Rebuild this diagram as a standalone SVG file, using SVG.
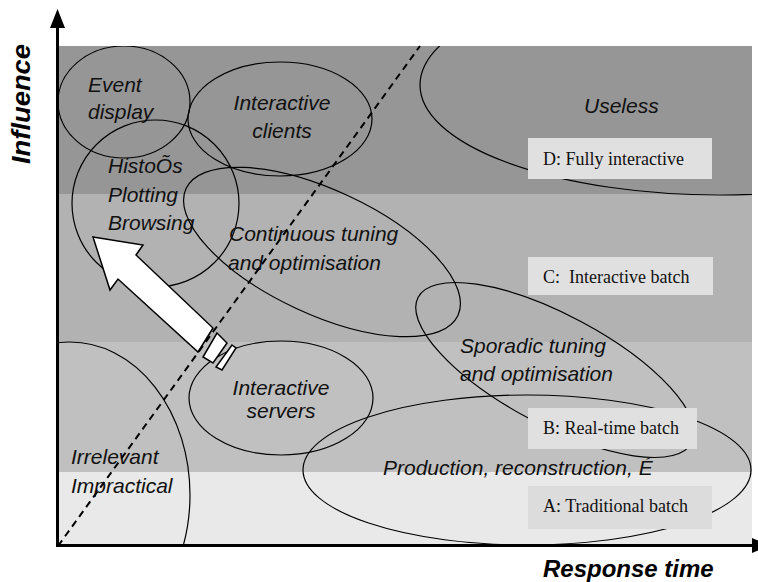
<svg xmlns="http://www.w3.org/2000/svg" width="758" height="582" viewBox="0 0 758 582">
<style>
.lbl{font-family:"Liberation Sans",Arial,sans-serif;font-style:italic;font-size:21px;fill:#111}
.box{fill:#e0e0e0}
.boxt{font-family:"Liberation Serif","Times New Roman",serif;font-size:18px;fill:#111}
.ell{fill:none;stroke:#000;stroke-width:1.2}
.axt{font-family:"Liberation Sans",Arial,sans-serif;font-style:italic;font-weight:bold;fill:#000}
</style>
<defs>
<clipPath id="plot"><rect x="58" y="46" width="694" height="499"/></clipPath>
</defs>
<rect width="758" height="582" fill="#fff"/>
<g id="bands">
<rect x="58" y="46" width="694" height="148" fill="#969696"/>
<rect x="58" y="194" width="694" height="148" fill="#b2b2b2"/>
<rect x="58" y="342" width="694" height="130" fill="#c0c0c0"/>
<rect x="58" y="472" width="694" height="73" fill="#e9e9e9"/>
</g>
<g clip-path="url(#plot)">
<g id="useless"><ellipse class="ell" cx="720" cy="85" rx="300" ry="110"/><text class="lbl" x="584" y="113">Useless</text></g>
<g id="irrelevant"><ellipse class="ell" cx="70" cy="495" rx="120" ry="153"/><text class="lbl" x="71" y="464">Irrelevant</text><text class="lbl" x="71" y="493">Impractical</text></g>
<g id="event-display"><ellipse class="ell" cx="124" cy="102" rx="66" ry="56"/><text class="lbl" x="88" y="92">Event</text><text class="lbl" x="88" y="119">display</text></g>
<g id="interactive-clients"><ellipse class="ell" cx="280" cy="119" rx="92" ry="57"/><text class="lbl" x="282" y="110" text-anchor="middle">Interactive</text><text class="lbl" x="282" y="138" text-anchor="middle">clients</text></g>
<g id="histos"><ellipse class="ell" cx="155.5" cy="203.5" rx="83.5" ry="83.5"/><text class="lbl" x="108" y="173">HistoÕs</text><text class="lbl" x="108" y="202">Plotting</text><text class="lbl" x="108" y="230">Browsing</text></g>
<g id="continuous"><ellipse class="ell" cx="322" cy="252" rx="150" ry="62" transform="rotate(25 322 252)"/><text class="lbl" x="229" y="241">Continuous tuning</text><text class="lbl" x="228" y="270">and optimisation</text></g>
<g id="sporadic"><ellipse class="ell" cx="555" cy="370" rx="155" ry="55" transform="rotate(28 555 370)"/><text class="lbl" x="460" y="353">Sporadic tuning</text><text class="lbl" x="460" y="381">and optimisation</text></g>
<g id="interactive-servers"><ellipse class="ell" cx="281" cy="398" rx="92" ry="57"/><text class="lbl" x="281" y="395" text-anchor="middle">Interactive</text><text class="lbl" x="281" y="418" text-anchor="middle">servers</text></g>
<g id="production"><ellipse class="ell" cx="527" cy="470" rx="224" ry="75"/><text class="lbl" x="383" y="475">Production, reconstruction, É</text></g>
</g>
<g id="connectors">
<line x1="58" y1="546" x2="420" y2="46" stroke="#000" stroke-width="2" stroke-dasharray="7,5"/>
<g fill="#fff" stroke="#000" stroke-width="1.5" stroke-linejoin="miter">
<polygon points="93,237 143,245 136,255 213,328 198,352 118,279 110,290"/>
<polygon points="217,333 227,343 213,363 203,357"/>
<polygon points="232,345 236,348 222,370 216,367"/>
</g>
</g>
<g id="level-d"><rect class="box" x="528" y="138" width="184" height="41"/><text class="boxt" x="543" y="165">D: Fully interactive</text></g>
<g id="level-c"><rect class="box" x="528" y="257" width="185" height="38"/><text class="boxt" x="543" y="283" xml:space="preserve">C:  Interactive batch</text></g>
<g id="level-b"><rect class="box" x="528" y="408" width="169" height="41"/><text class="boxt" x="543" y="434">B: Real-time batch</text></g>
<g id="level-a"><rect class="box" x="528" y="486" width="184" height="43" style="fill:#dcdcdc"/><text class="boxt" x="543" y="512">A: Traditional batch</text></g>
<g id="axes">
<line x1="57.5" y1="547" x2="57.5" y2="26" stroke="#000" stroke-width="3"/>
<polygon points="50,28 57.5,9 65,28" fill="#000"/>
<line x1="56" y1="545.5" x2="753" y2="545.5" stroke="#000" stroke-width="3"/>
<polygon points="752,538 770,545.5 752,553" fill="#000"/>
<text class="axt" font-size="25" transform="translate(30,104) rotate(-90)" text-anchor="middle" textLength="120" lengthAdjust="spacingAndGlyphs">Influence</text>
<text class="axt" font-size="24" x="543" y="577">Response time</text>
</g>
</svg>
